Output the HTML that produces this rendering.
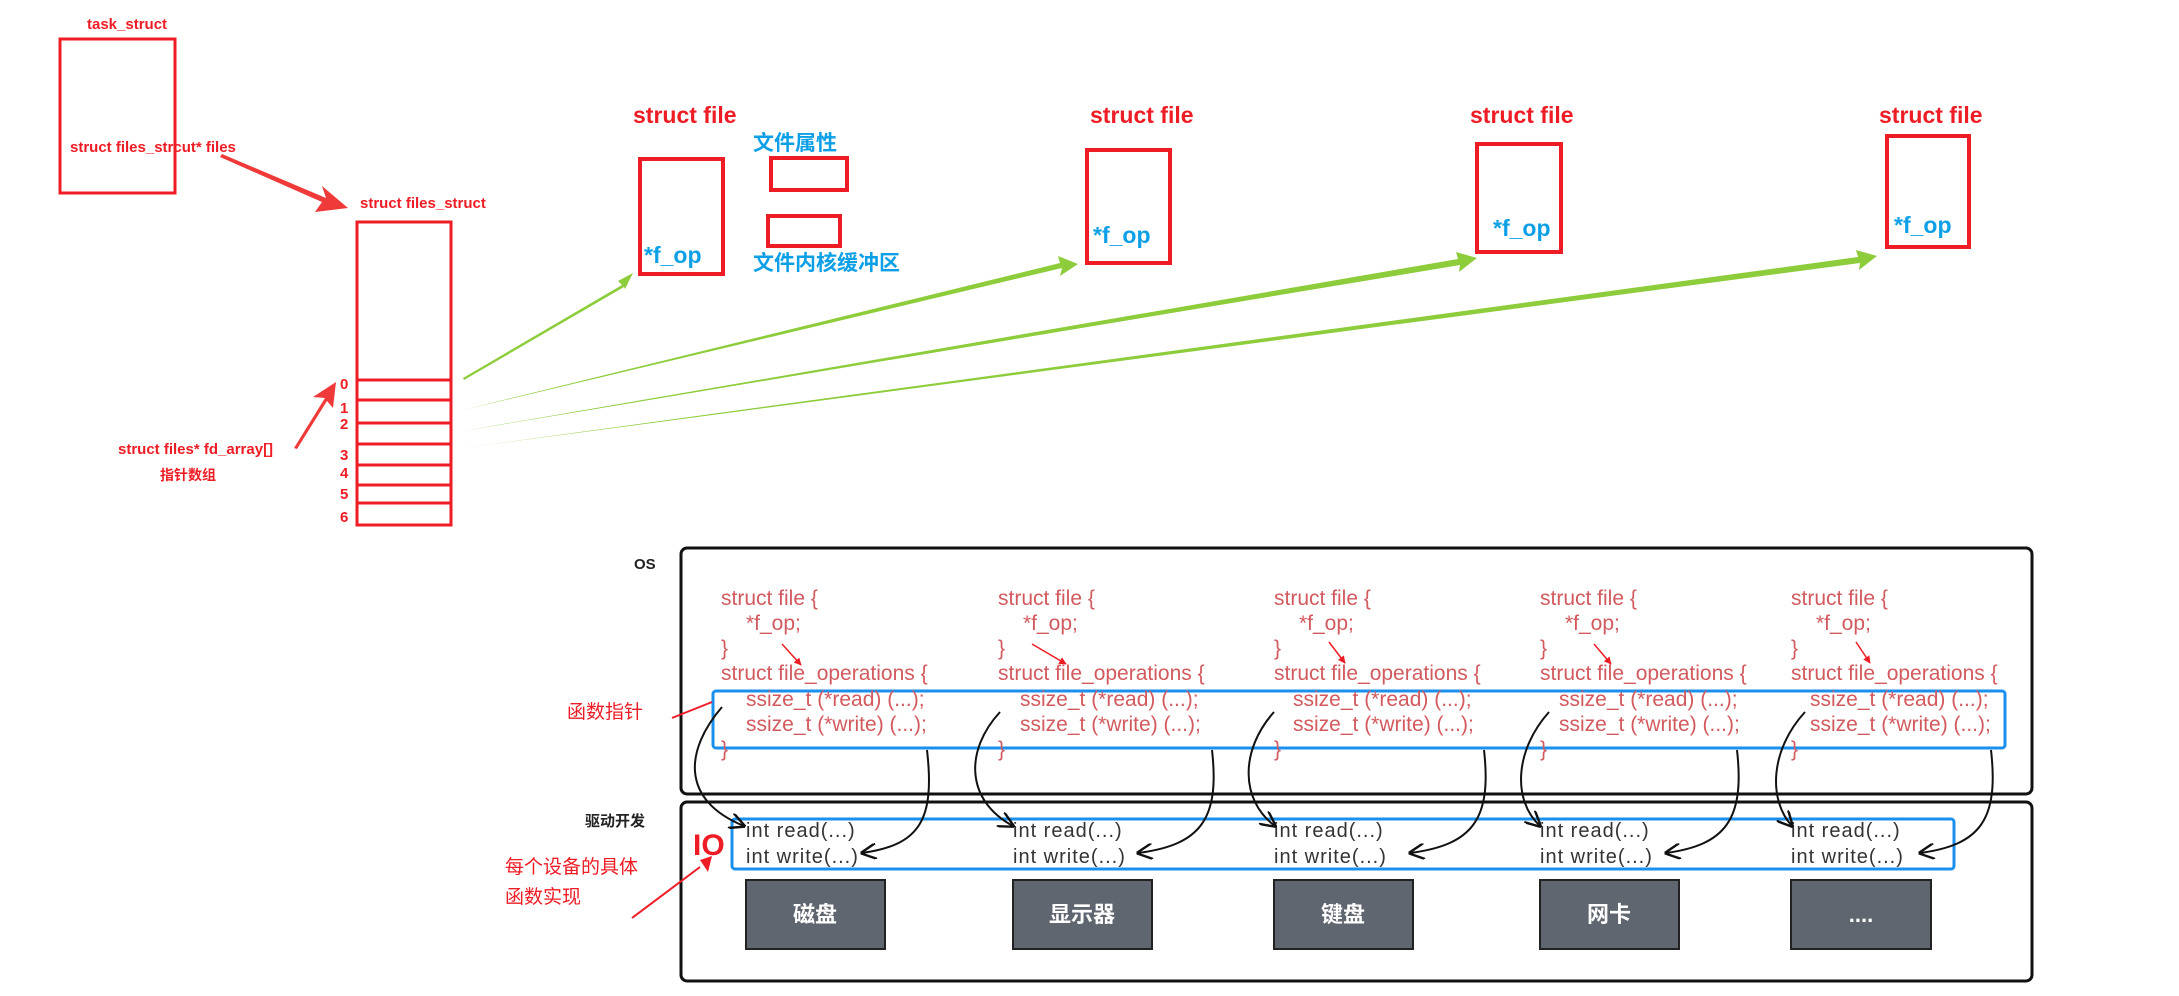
<!DOCTYPE html>
<html><head><meta charset="utf-8"><style>
html,body{margin:0;padding:0;background:#fff;}
svg{display:block;}
text{font-family:"Liberation Sans","Noto Sans CJK SC",sans-serif;}
.r{fill:#ee1c25;font-weight:bold;}
.b{fill:#0ea0e6;font-weight:bold;}
.c{fill:#d25a5e;font-size:21px;}
.i{fill:#333;font-size:20px;letter-spacing:1px;}
.d{fill:#fff;font-size:22px;font-weight:bold;}
</style></head><body>
<svg width="2179" height="996" viewBox="0 0 2179 996" xmlns="http://www.w3.org/2000/svg">
<defs>
<marker id="ah" viewBox="0 0 10 10" refX="9" refY="5" markerWidth="8" markerHeight="8" orient="auto"><path d="M0,0 L10,5 L0,10" fill="none" stroke="#111" stroke-width="1.5"/></marker>
<marker id="rh" viewBox="0 0 10 10" refX="9" refY="5" markerWidth="5" markerHeight="5" orient="auto"><path d="M0,0 L10,5 L0,10z" fill="#ee1c25"/></marker>
</defs>
<text class="r" x="87" y="29" font-size="15">task_struct</text>
<rect x="60" y="39" width="115" height="154" fill="none" stroke="#ee1c25" stroke-width="3"/>
<text class="r" x="70" y="152" font-size="15">struct files_strcut* files</text>
<polygon points="222,154 326,198 322,186 348,208 315,212 322,202 220,157" fill="#f03a3a"/>
<text class="r" x="360" y="208" font-size="15">struct files_struct</text>
<rect x="357" y="222" width="94" height="303" fill="none" stroke="#ee1c25" stroke-width="3"/>
<g stroke="#ee1c25" stroke-width="3">
<line x1="357" y1="380" x2="451" y2="380"/><line x1="357" y1="400" x2="451" y2="400"/>
<line x1="357" y1="423" x2="451" y2="423"/><line x1="357" y1="444" x2="451" y2="444"/>
<line x1="357" y1="465" x2="451" y2="465"/><line x1="357" y1="485" x2="451" y2="485"/>
<line x1="357" y1="503" x2="451" y2="503"/>
</g>
<g class="r" font-size="15">
<text x="340" y="389">0</text><text x="340" y="413">1</text><text x="340" y="429">2</text>
<text x="340" y="460">3</text><text x="340" y="478">4</text><text x="340" y="499">5</text><text x="340" y="522">6</text>
</g>
<text class="r" x="118" y="454" font-size="15">struct files* fd_array[]</text>
<text class="r" x="160" y="480" font-size="14">指针数组</text>
<polygon points="294,448 325,398 313,397 336,382 333,408 327,401 297,449" fill="#f03a3a"/>
<g fill="#8dcc3a">
<polygon points="463,378 622,285 618,281 633,273 625,289 624,287 464,380"/>
<polygon points="463,410 1062,268 1060,276 1078,264 1058,256 1060,263"/>
<polygon points="463,431 1460,265 1459,272 1477,258 1456,252 1458,259"/>
<polygon points="463,448 1860,263 1859,270 1877,256 1856,250 1858,257"/>
</g>
<g class="r" font-size="23">
<text x="633" y="123">struct file</text><text x="1090" y="123">struct file</text>
<text x="1470" y="123">struct file</text><text x="1879" y="123">struct file</text>
</g>
<g fill="none" stroke="#ee1c25" stroke-width="4">
<rect x="640" y="159" width="83" height="115"/>
<rect x="1087" y="150" width="83" height="113"/>
<rect x="1477" y="144" width="84" height="108"/>
<rect x="1887" y="136" width="82" height="111"/>
<rect x="771" y="158" width="76" height="32"/>
<rect x="768" y="216" width="72" height="30"/>
</g>
<g class="b" font-size="23">
<text x="644" y="263">*f_op</text><text x="1093" y="243">*f_op</text>
<text x="1493" y="236">*f_op</text><text x="1894" y="233">*f_op</text>
</g>
<text class="b" x="753" y="150" font-size="21">文件属性</text>
<text class="b" x="753" y="270" font-size="21">文件内核缓冲区</text>
<text x="634" y="569" font-size="15" font-weight="bold" fill="#222">OS</text>
<rect x="681" y="548" width="1351" height="246" rx="6" fill="none" stroke="#111" stroke-width="3"/>
<text x="585" y="826" font-size="15" font-weight="bold" fill="#222">驱动开发</text>
<rect x="681" y="802" width="1351" height="179" rx="6" fill="none" stroke="#111" stroke-width="3"/>
<rect x="713" y="691" width="1292" height="57" rx="3" fill="none" stroke="#1a8fec" stroke-width="3"/>
<rect x="732" y="819" width="1222" height="50" rx="3" fill="none" stroke="#1a8fec" stroke-width="3"/>
<text x="567" y="718" font-size="19" fill="#ee1c25">函数指针</text>
<line x1="672" y1="718" x2="712" y2="702" stroke="#ee1c25" stroke-width="2"/>
<text x="505" y="873" font-size="19" fill="#ee1c25">每个设备的具体</text>
<text x="505" y="903" font-size="19" fill="#ee1c25">函数实现</text>
<text x="693" y="855" font-size="30" font-weight="bold" fill="#ee1c25">IO</text>
<line x1="632" y1="918" x2="700" y2="867" stroke="#ee1c25" stroke-width="2"/>
<polygon points="700,860 708,872 712,856" fill="#ee1c25"/>
<g>
<text class="c" x="721" y="605">struct file {</text><text class="c" x="746" y="630">*f_op;</text><text class="c" x="721" y="655">}</text>
<text class="c" x="721" y="680">struct file_operations {</text><text class="c" x="746" y="706">ssize_t (*read) (...);</text>
<text class="c" x="746" y="731">ssize_t (*write) (...);</text><text class="c" x="721" y="756">}</text>
<text class="c" x="998" y="605">struct file {</text><text class="c" x="1023" y="630">*f_op;</text><text class="c" x="998" y="655">}</text>
<text class="c" x="998" y="680">struct file_operations {</text><text class="c" x="1020" y="706">ssize_t (*read) (...);</text>
<text class="c" x="1020" y="731">ssize_t (*write) (...);</text><text class="c" x="998" y="756">}</text>
<text class="c" x="1274" y="605">struct file {</text><text class="c" x="1299" y="630">*f_op;</text><text class="c" x="1274" y="655">}</text>
<text class="c" x="1274" y="680">struct file_operations {</text><text class="c" x="1293" y="706">ssize_t (*read) (...);</text>
<text class="c" x="1293" y="731">ssize_t (*write) (...);</text><text class="c" x="1274" y="756">}</text>
<text class="c" x="1540" y="605">struct file {</text><text class="c" x="1565" y="630">*f_op;</text><text class="c" x="1540" y="655">}</text>
<text class="c" x="1540" y="680">struct file_operations {</text><text class="c" x="1559" y="706">ssize_t (*read) (...);</text>
<text class="c" x="1559" y="731">ssize_t (*write) (...);</text><text class="c" x="1540" y="756">}</text>
<text class="c" x="1791" y="605">struct file {</text><text class="c" x="1816" y="630">*f_op;</text><text class="c" x="1791" y="655">}</text>
<text class="c" x="1791" y="680">struct file_operations {</text><text class="c" x="1810" y="706">ssize_t (*read) (...);</text>
<text class="c" x="1810" y="731">ssize_t (*write) (...);</text><text class="c" x="1791" y="756">}</text>
</g>
<g stroke="#ee1c25" stroke-width="1.5" marker-end="url(#rh)">
<line x1="782" y1="644" x2="801" y2="665"/><line x1="1032" y1="644" x2="1066" y2="664"/>
<line x1="1329" y1="642" x2="1345" y2="663"/><line x1="1594" y1="644" x2="1611" y2="664"/>
<line x1="1856" y1="642" x2="1870" y2="663"/>
</g>
<g class="i">
<text x="746" y="837">int read(...)</text><text x="746" y="863">int write(...)</text>
<text x="1013" y="837">int read(...)</text><text x="1013" y="863">int write(...)</text>
<text x="1274" y="837">int read(...)</text><text x="1274" y="863">int write(...)</text>
<text x="1540" y="837">int read(...)</text><text x="1540" y="863">int write(...)</text>
<text x="1791" y="837">int read(...)</text><text x="1791" y="863">int write(...)</text>
</g>
<g fill="none" stroke="#111" stroke-width="2" marker-end="url(#ah)">
<path d="M722,707 C685,750 680,800 744,826"/>
<path d="M927,750 C935,820 920,845 862,853"/>
<path d="M1000,712 C965,750 965,800 1013,826"/>
<path d="M1212,750 C1220,820 1200,845 1138,853"/>
<path d="M1274,712 C1240,750 1240,800 1275,826"/>
<path d="M1484,750 C1492,820 1472,845 1410,853"/>
<path d="M1549,712 C1515,750 1512,800 1540,826"/>
<path d="M1737,750 C1745,820 1725,845 1666,853"/>
<path d="M1805,712 C1770,750 1768,800 1792,826"/>
<path d="M1991,750 C1999,820 1980,845 1920,853"/>
</g>
<g fill="#5f6670" stroke="#222" stroke-width="2">
<rect x="746" y="880" width="139" height="69"/><rect x="1013" y="880" width="139" height="69"/>
<rect x="1274" y="880" width="139" height="69"/><rect x="1540" y="880" width="139" height="69"/>
<rect x="1791" y="880" width="140" height="69"/>
</g>
<g class="d" text-anchor="middle">
<text x="815" y="922">磁盘</text><text x="1082" y="922">显示器</text>
<text x="1343" y="922">键盘</text><text x="1609" y="922">网卡</text><text x="1861" y="922">....</text>
</g>
</svg>
</body></html>
